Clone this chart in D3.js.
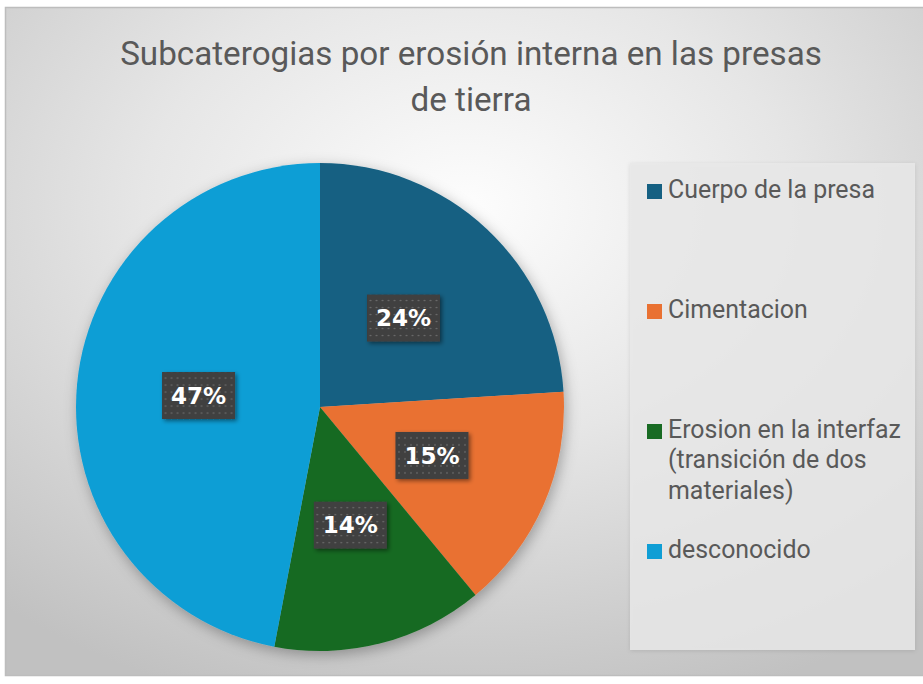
<!DOCTYPE html>
<html>
<head>
<meta charset="utf-8">
<script src="https://cdn.jsdelivr.net/npm/d3@7"></script>
<style>
  html, body { margin: 0; padding: 0; background: #fff; }
  svg { display: block; }
</style>
</head>
<body>
<div id="chart"></div>
<script>
/* data */
var categories = ["Cuerpo de la presa", "Cimentacion", "Erosion en la interfaz (transición de dos materiales)", "desconocido"],
    legendLines = [["Cuerpo de la presa"], ["Cimentacion"], ["Erosion en la interfaz", "(transición de dos", "materiales)"], ["desconocido"]],
    percents = [24, 15, 14, 47],
    colors = ["#156082", "#E97132", "#196B24", "#0F9ED5"],
    titleLines = ["Subcaterogias por erosión interna en las presas", "de tierra"];

/* sizes */
var width = 923,
    height = 684,
    cx = 320,
    cy = 407,
    radius = 244,
    titleWidth = 702,
    legendRef = 207,
    textCol = "#595959";

var svg = d3.select("#chart")
    .append("svg")
    .attr("width", width)
    .attr("height", height);

var defs = svg.append("defs");

// background gradient
var bgGrad = defs.append("radialGradient")
    .attr("id", "bgGrad")
    .attr("cx", "0.5")
    .attr("cy", "0.3")
    .attr("r", "0.78");
bgGrad.append("stop").attr("offset", "0").attr("stop-color", "#fdfdfd");
bgGrad.append("stop").attr("offset", "0.45").attr("stop-color", "#e6e6e6");
bgGrad.append("stop").attr("offset", "1").attr("stop-color", "#c1c1c1");

defs.append("filter")
    .attr("id", "pieShadow")
    .attr("x", "-20%").attr("y", "-20%")
    .attr("width", "140%").attr("height", "140%")
    .append("feDropShadow")
    .attr("dx", 2).attr("dy", 4)
    .attr("stdDeviation", 7)
    .attr("flood-color", "#000")
    .attr("flood-opacity", 0.3);

defs.append("filter")
    .attr("id", "boxShadow")
    .attr("x", "-20%").attr("y", "-20%")
    .attr("width", "140%").attr("height", "140%")
    .append("feDropShadow")
    .attr("dx", 2).attr("dy", 2)
    .attr("stdDeviation", 2)
    .attr("flood-color", "#000")
    .attr("flood-opacity", 0.45);

defs.append("filter")
    .attr("id", "legShadow")
    .attr("x", "-10%").attr("y", "-10%")
    .attr("width", "120%").attr("height", "120%")
    .append("feDropShadow")
    .attr("dx", 0).attr("dy", 1)
    .attr("stdDeviation", 2)
    .attr("flood-color", "#000")
    .attr("flood-opacity", 0.12);

// dotted fill for the data label boxes
var dots = defs.append("pattern")
    .attr("id", "dots")
    .attr("patternUnits", "userSpaceOnUse")
    .attr("width", 6)
    .attr("height", 7);
dots.append("rect").attr("width", 6).attr("height", 7).attr("fill", "#3f3f3f");
dots.append("circle").attr("cx", 3).attr("cy", 3.5).attr("r", 0.8).attr("fill", "#7c7c7c");

/* chart area */
svg.append("rect")
    .attr("x", 5.5)
    .attr("y", 7.5)
    .attr("width", width)
    .attr("height", 668)
    .attr("fill", "url(#bgGrad)")
    .attr("stroke", "#bdbdbd")
    .attr("stroke-width", 1.5);

/* title */
var titleG = svg.append("g")
    .attr("fill", textCol)
    .style("font-family", "Roboto, 'Liberation Sans', sans-serif")
    .style("font-size", "34px");
var titleText = titleG.selectAll("text")
    .data(titleLines)
    .join("text")
    .attr("text-anchor", "middle")
    .attr("x", 0)
    .attr("y", (d, i) => 65 + i * 46)
    .text(d => d);
var titleK = titleWidth / titleText.node().getComputedTextLength();
titleG.attr("transform", "translate(471,0) scale(" + titleK + ",1)");

/* pie */
var pie = d3.pie().sort(null).value(d => d),
    arc = d3.arc().innerRadius(0).outerRadius(radius),
    arcs = pie(percents);

var pieG = svg.append("g")
    .attr("transform", "translate(" + cx + "," + cy + ")");

pieG.append("g")
    .attr("filter", "url(#pieShadow)")
    .selectAll("path")
    .data(arcs)
    .join("path")
    .attr("d", arc)
    .attr("fill", (d, i) => colors[i]);

// data labels
var labels = pieG.selectAll("g.lbl")
    .data(arcs)
    .join("g")
    .attr("class", "lbl")
    .attr("transform", d => "translate(" + arc.centroid(d) + ")");

labels.append("rect")
    .attr("x", -36.5)
    .attr("y", -23.5)
    .attr("width", 73)
    .attr("height", 47)
    .attr("fill", "url(#dots)")
    .attr("filter", "url(#boxShadow)");

labels.append("text")
    .attr("text-anchor", "middle")
    .attr("dy", "0.36em")
    .attr("fill", "#fff")
    .style("font-family", "'DejaVu Sans', sans-serif")
    .style("font-weight", "bold")
    .style("font-size", "23px")
    .text(d => d.data + "%");

/* legend */
svg.append("rect")
    .attr("x", 630)
    .attr("y", 163)
    .attr("width", 285)
    .attr("height", 487)
    .attr("fill", "#e9e9e9")
    .attr("fill-opacity", 0.85)
    .attr("filter", "url(#legShadow)");

var legY = d3.scalePoint()
    .domain(categories)
    .range([198, 558]);

var legend = svg.append("g")
    .style("font-family", "Roboto, 'Liberation Sans', sans-serif")
    .style("font-size", "26px");

var items = legend.selectAll("g")
    .data(categories)
    .join("g")
    .attr("transform", d => "translate(0," + legY(d) + ")");

items.append("rect")
    .attr("x", 647)
    .attr("y", -14)
    .attr("width", 15)
    .attr("height", 15)
    .attr("fill", (d, i) => colors[i]);

var legTexts = items.append("text")
    .attr("fill", textCol);

legTexts.selectAll("tspan")
    .data((d, i) => legendLines[i])
    .join("tspan")
    .attr("x", 0)
    .attr("y", (d, j) => j * 30.5)
    .text(d => d);

var legK = legendRef / legTexts.node().getComputedTextLength();
legTexts.attr("transform", "translate(668,0) scale(" + legK + ",1)");
</script>
</body>
</html>
